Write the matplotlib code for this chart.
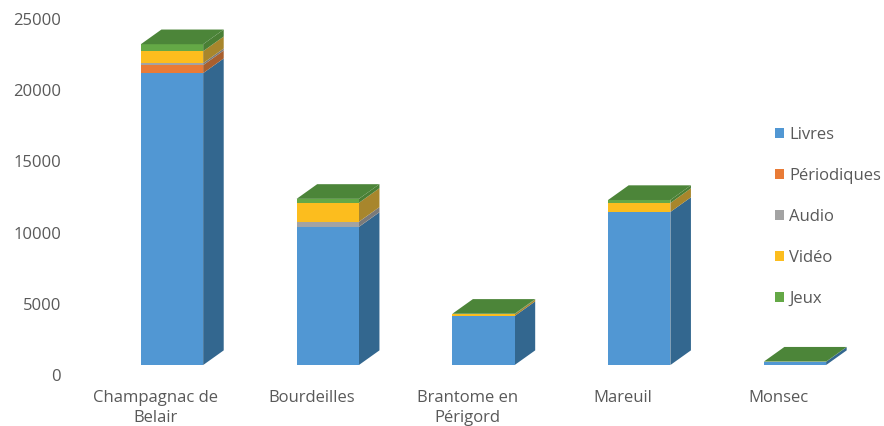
import numpy as np
import matplotlib
matplotlib.use('Agg')
import matplotlib.pyplot as plt
from matplotlib.patches import Patch

#-------------------- data --------------------
communes = ['Champagnac de\nBelair', 'Bourdeilles', 'Brantome en\nPérigord', 'Mareuil', 'Monsec']
livres = [20500, 9700, 3440, 10750, 230]
periodiques = [560, 10, 0, 0, 0]
audio = [140, 350, 0, 0, 0]
video = [840, 1330, 130, 630, 0]
jeux = [490, 280, 30, 210, 10]
yticks = [0, 5000, 10000, 15000, 20000, 25000]

series = [livres, periodiques, audio, video, jeux]
names = ['Livres', 'Périodiques', 'Audio', 'Vidéo', 'Jeux']
front_colors = ['#5197D3', '#E97B36', '#A3A3A3', '#FCBD1E', '#64A846']
side_colors = ['#33678F', '#A85F2E', '#7A7A7A', '#A8862C', '#4A7F35']
top_color = '#4C8539'
text_color = '#595959'

#-------------------- 3D look, in axis units --------------------
bar_width = 0.40
depth_x = 0.132
depth_y = 1030
floor = 700
label_shift = 0.105

plt.rcParams['font.family'] = ['Open Sans', 'DejaVu Sans']

fig = plt.figure(figsize=(8.84, 4.26), dpi=100)
ax = fig.add_axes([70/884, 1-375/426, (880-70)/884, (375-19)/426])
ax.set_xlim(-0.655, 4.546)
ax.set_ylim(0, 25000)

x = np.arange(len(communes))
bottom = np.full(len(communes), float(floor))
for vals, front, side in zip(series, front_colors, side_colors):
    vals = np.array(vals, dtype=float)
    ax.bar(x, vals, bottom=bottom, width=bar_width, color=front, linewidth=0, zorder=3)
    right = x + bar_width/2
    for r, b, v in zip(right, bottom, vals):
        if v > 0:
            ax.fill([r, r+depth_x, r+depth_x, r], [b, b+depth_y, b+v+depth_y, b+v],
                    color=side, linewidth=0, zorder=2)
    bottom = bottom + vals

for xi, t in zip(x, bottom):
    l = xi - bar_width/2
    r = xi + bar_width/2
    ax.fill([l, r, r+depth_x, l+depth_x], [t, t, t+depth_y, t+depth_y],
            color=top_color, linewidth=0, zorder=4)

for s in ax.spines.values():
    s.set_visible(False)
ax.patch.set_alpha(0)
ax.set_yticks(yticks)
ax.set_xticks(x - label_shift)
ax.set_xticklabels(communes, linespacing=1.4)
ax.tick_params(axis='y', length=0, pad=6.5, labelsize=12, labelcolor=text_color)
ax.tick_params(axis='x', length=0, pad=10.5, labelsize=12, labelcolor=text_color)

handles = [Patch(color=c, linewidth=0) for c in front_colors]
ax.legend(handles, names, loc='center left', bbox_to_anchor=(767/884, 1-217/426),
          bbox_transform=fig.transFigure, frameon=False, fontsize=12, labelcolor=text_color,
          labelspacing=1.49, handlelength=0.54, handleheight=0.54, handletextpad=0.3,
          borderpad=0, borderaxespad=0.5)

fig.savefig('out.png', dpi=100)
